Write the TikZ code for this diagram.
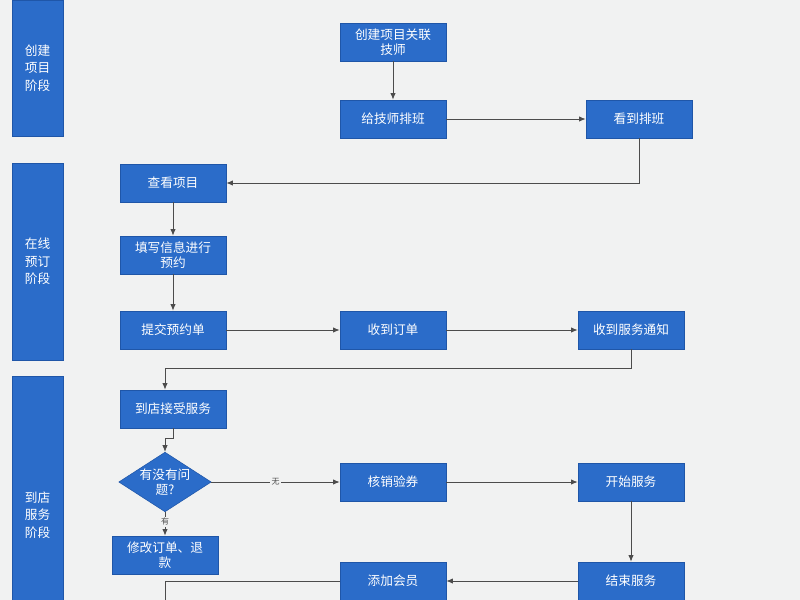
\documentclass[tikz,border=0pt]{standalone}
\usepackage{fontspec}
\newfontfamily\cjk{Noto Sans CJK SC}
\usetikzlibrary{shapes.geometric,arrows.meta}
\definecolor{bg}{HTML}{F1F2F2}
\definecolor{bx}{HTML}{2B6CC9}
\definecolor{bxd}{HTML}{1F56A8}
\begin{document}
\begin{tikzpicture}[x=0.75pt,y=-0.75pt,
  box/.style={rectangle,fill=bx,draw=bxd,minimum width=79.5pt,minimum height=28.5pt,inner sep=1pt,text=white,align=center,text width=75pt,font=\cjk\fontsize{9.5}{11.5}\selectfont},
  lane/.style={rectangle,fill=bx,draw=bxd,minimum width=38pt,text=white,align=center,font=\cjk\fontsize{9.5}{13}\selectfont},
  dia/.style={diamond,fill=bx,draw=bxd,minimum width=67.5pt,minimum height=43.5pt,inner sep=0pt,aspect=1.55,text=white,align=center,font=\cjk\fontsize{9.5}{11.5}\selectfont},
  ar/.style={draw=black!70,line width=0.6pt,-{Latex[length=5pt,width=4pt]}},
  ln/.style={draw=black!70,line width=0.6pt},
  lab/.style={fill=bg,inner sep=1pt,font=\cjk\fontsize{6}{7}\selectfont,text=black!70}]
\fill[bg] (0,0) rectangle (800,600);
\useasboundingbox (0,0) rectangle (800,600);
\node[lane,minimum height=102pt] (L1) at (37.5,68) {创建\\项目\\阶段};
\node[lane,minimum height=147.75pt] (L2) at (37.5,261.5) {在线\\预订\\阶段};
\node[lane,minimum height=168pt] (L3) at (37.5,488) {};
\node[text=white,align=center,font=\cjk\fontsize{9.5}{13}\selectfont] (L3t) at (37.5,515) {到店\\服务\\阶段};
\node[box] (n1) at (393,42) {创建项目关联\\技师};
\node[box] (n2) at (393,119) {给技师排班};
\node[box] (n3) at (639,119) {看到排班};
\node[box] (n4) at (173,183) {查看项目};
\node[box] (n5) at (173,255) {填写信息进行\\预约};
\node[box] (n6) at (173,330) {提交预约单};
\node[box] (n7) at (393,330) {收到订单};
\node[box] (n8) at (631,330) {收到服务通知};
\node[box] (n9) at (173,409) {到店接受服务};
\node[dia] (d) at (165,482) {有没有问\\题?};
\node[box] (n10) at (393,482) {核销验券};
\node[box] (n11) at (631,482) {开始服务};
\node[box] (n12) at (165,555) {修改订单、退\\款};
\node[box] (n13) at (393,581) {添加会员};
\node[box] (n14) at (631,581) {结束服务};
\coordinate (e) at (165,600);
\draw[ar] (n1) -- (n2);
\draw[ar] (n2) -- (n3);
\draw[ar] (n3.south) |- (n4.east);
\draw[ar] (n4) -- (n5);
\draw[ar] (n5) -- (n6);
\draw[ar] (n6) -- (n7);
\draw[ar] (n7) -- (n8);
\draw[ar] (n8.south) -- ++(0,19) -| (n9.north -| d.north);
\draw[ar] (n9.south) -- ++(0,10) -| (d.north);
\draw[ar] (d.east) -- node[lab]{无} (n10.west);
\draw[ar] (d.south) -- node[lab,pos=0.4]{有} (n12.north);
\draw[ar] (n10) -- (n11);
\draw[ar] (n11) -- (n14);
\draw[ar] (n14) -- (n13);
\draw[ln] (n13.west) -| (e);
\end{tikzpicture}
\end{document}
